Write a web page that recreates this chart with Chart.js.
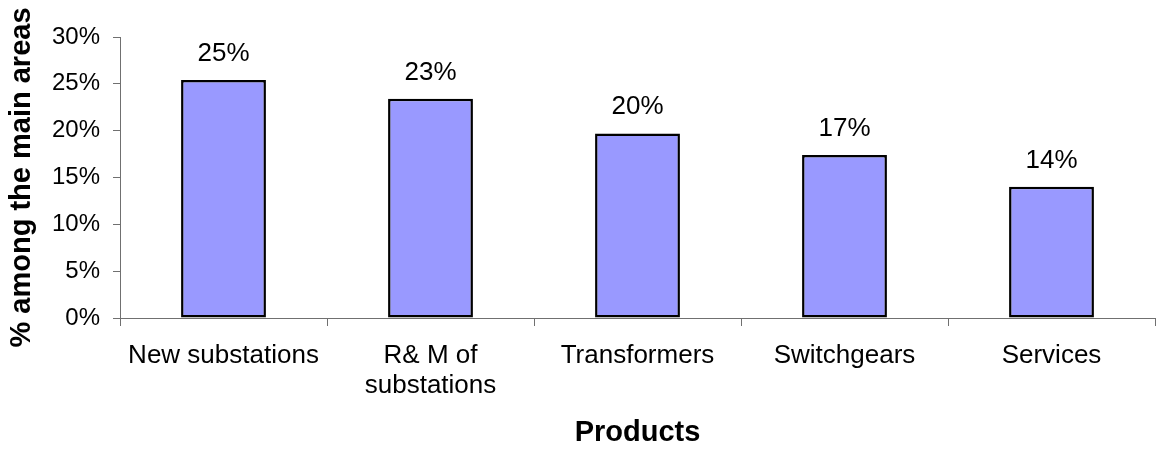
<!DOCTYPE html>
<html lang="en">
<head>
    <meta charset="UTF-8">
    <title>Products share</title>
    <script src="https://cdn.jsdelivr.net/npm/chart.js@4/dist/chart.umd.min.js"></script>
    <style>
        body { margin: 0; background: #fff; }
    </style>
</head>
<body>
    <canvas id="myChart" width="1156" height="452"></canvas>
    <script>
        // data
        const categories = ['New substations', ['R& M of', 'substations'], 'Transformers', 'Switchgears', 'Services'];
        const shares = [25.4, 23.4, 19.7, 17.4, 14.0];   // % among the main areas
        const yTicks = [0, 5, 10, 15, 20, 25, 30];

        const fontFamily = '"Liberation Sans", Arial, sans-serif';
        const axisColor = '#707070';

        // value labels above each bar
        const barLabels = {
            id: 'barLabels',
            afterDatasetsDraw(chart) {
                const ctx = chart.ctx;
                const meta = chart.getDatasetMeta(0);
                ctx.save();
                ctx.font = '26px ' + fontFamily;
                ctx.fillStyle = '#000';
                ctx.textAlign = 'center';
                ctx.textBaseline = 'alphabetic';
                meta.data.forEach((bar, i) => {
                    ctx.fillText(Math.round(shares[i]) + '%', bar.x, bar.y - 19);
                });
                ctx.restore();
            }
        };

        const ctx = document.getElementById('myChart').getContext('2d');
        new Chart(ctx, {
            type: 'bar',
            data: {
                labels: categories,
                datasets: [{
                    data: shares,
                    backgroundColor: '#9999FF',
                    borderColor: '#000',
                    borderWidth: 2.5,
                    borderSkipped: false,
                    categoryPercentage: 1,
                    barPercentage: 0.41,
                }],
            },
            options: {
                responsive: false,
                animation: false,
                devicePixelRatio: 1,
                layout: { padding: { top: 37, right: 1, left: 0, bottom: 0 } },
                plugins: {
                    legend: { display: false },
                    tooltip: { enabled: false },
                },
                scales: {
                    x: {
                        grid: {
                            offset: true,
                            drawOnChartArea: false,
                            tickLength: 8,
                            color: axisColor,
                        },
                        border: { color: axisColor, width: 1 },
                        ticks: {
                            color: '#000',
                            padding: 15,
                            maxRotation: 0,
                            autoSkip: false,
                            font: { family: fontFamily, size: 26, lineHeight: 1.15 },
                        },
                        title: {
                            display: true,
                            text: 'Products',
                            color: '#000',
                            padding: { top: 0, bottom: 2 },
                            font: { family: fontFamily, size: 29, weight: 'bold', lineHeight: 1.2 },
                        },
                        afterFit(scale) { scale.height = 134; },
                    },
                    y: {
                        min: 0,
                        max: 30,
                        afterBuildTicks(scale) {
                            scale.ticks = yTicks.map(v => ({ value: v }));
                        },
                        grid: {
                            drawOnChartArea: false,
                            tickLength: 7,
                            color: axisColor,
                        },
                        border: { color: axisColor, width: 1 },
                        ticks: {
                            color: '#000',
                            padding: 13,
                            callback: v => v + '%',
                            font: { family: fontFamily, size: 24 },
                        },
                        title: {
                            display: true,
                            text: '% among the main areas',
                            color: '#000',
                            padding: { top: 5, bottom: 0 },
                            font: { family: fontFamily, size: 29, weight: 'bold', lineHeight: 1.2 },
                        },
                        afterFit(scale) { scale.width = 120; },
                    },
                },
            },
            plugins: [barLabels],
        });
    </script>
</body>
</html>
